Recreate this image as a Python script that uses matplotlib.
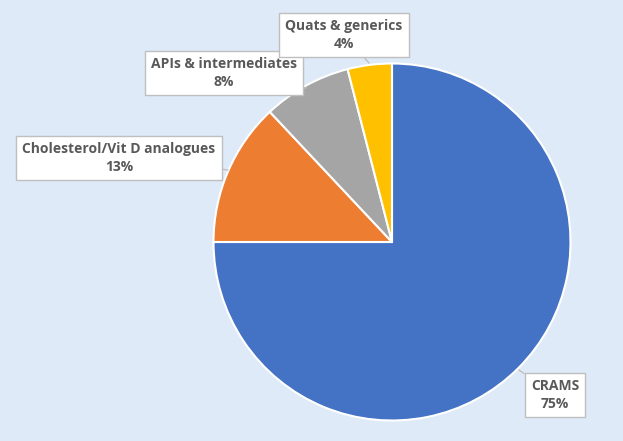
import matplotlib.pyplot as plt

labels = ['CRAMS', 'Cholesterol/Vit D analogues', 'APIs & intermediates', 'Quats & generics']
values = [75, 13, 8, 4]
colors = ['#4472C4', '#ED7D31', '#A5A5A5', '#FFC000']

# label box centres and pointer tips (pixels from top-left)
label_pos = [(555, 395), (119, 158), (224, 73), (344, 35)]
tip_pos = [(519, 370), (228, 170), (306, 88), (369, 63)]

W, H = 623, 441
fig = plt.figure(figsize=(W / 100, H / 100), dpi=100)
fig.patch.set_facecolor('#DEEAF7')
ax = fig.add_axes([0, 0, 1, 1])
ax.set_xlim(0, W)
ax.set_ylim(0, H)
ax.axis('off')

ax.pie(values, colors=colors, startangle=90, counterclock=False,
       center=(392, H - 242), radius=178.5, frame=True,
       wedgeprops=dict(edgecolor='white', linewidth=1.5))
ax.set_xlim(0, W)
ax.set_ylim(0, H)
ax.set_aspect('equal')
ax.axis('off')

for lab, v, (tx, ty), (px, py) in zip(labels, values, label_pos, tip_pos):
    ax.annotate(f'{lab}\n{v}%', xy=(px, H - py), xytext=(tx, H - ty),
                ha='center', va='center', fontsize=10, fontweight='bold',
                family=['Open Sans', 'DejaVu Sans'], color='#595959',
                linespacing=1.35,
                bbox=dict(boxstyle='square,pad=0.45', fc='white', ec='#BFBFBF', lw=1),
                arrowprops=dict(arrowstyle='-', color='#BFBFBF', lw=1, shrinkA=0, shrinkB=0))

fig.savefig('out.png', dpi=100, facecolor=fig.get_facecolor())
